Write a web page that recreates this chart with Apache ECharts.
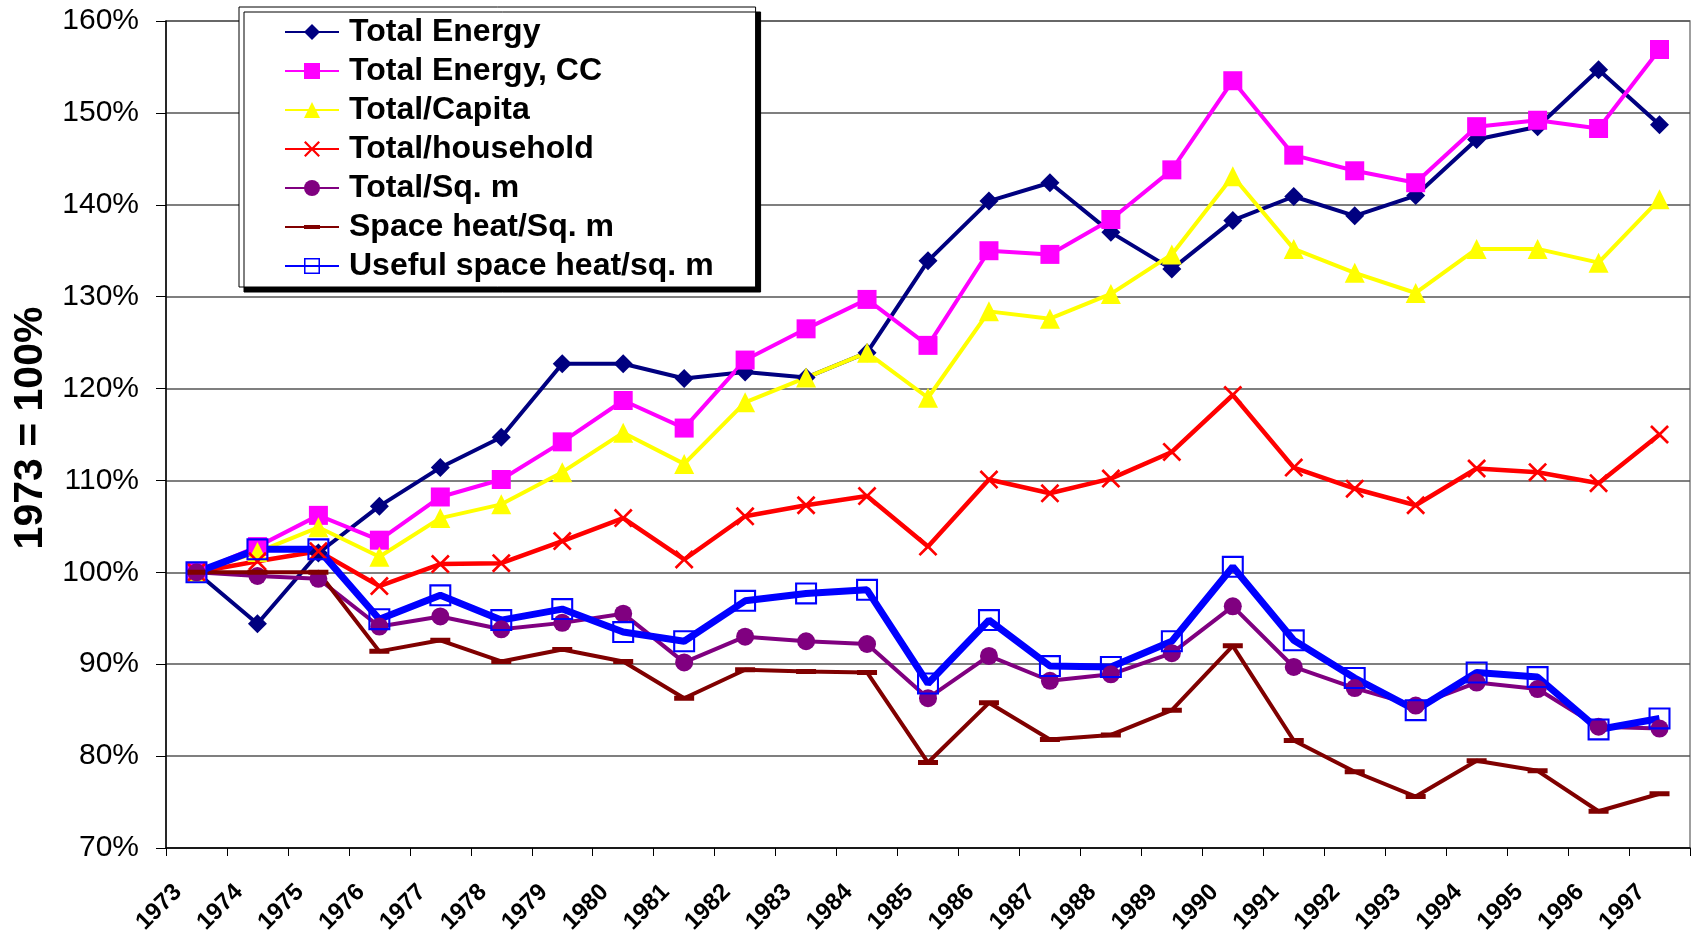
<!DOCTYPE html>
<html>
<head>
<meta charset="utf-8">
<script src="https://cdn.jsdelivr.net/npm/echarts@6/dist/echarts.min.js"></script>
<style>
  html, body { margin: 0; padding: 0; background: #fff; }
  #chart { width: 1698px; height: 934px; }
</style>
</head>
<body>
<div id="chart"></div>
<script>
// years on the x axis
const years = ['1973', '1974', '1975', '1976', '1977', '1978', '1979', '1980', '1981',
  '1982', '1983', '1984', '1985', '1986', '1987', '1988', '1989', '1990', '1991',
  '1992', '1993', '1994', '1995', '1996', '1997']

// index values, 1973 = 100%
const totalEnergy = [100, 94.4, 102.1, 107.2, 111.4, 114.7, 122.7, 122.7, 121.1, 121.8, 121.2, 123.9,
  133.9, 140.4, 142.4, 137.0, 133.0, 138.3, 140.9, 138.8, 141.0, 147.1, 148.5, 154.7, 148.7]
const totalEnergyCC = [100, 102.8, 106.2, 103.5, 108.2, 110.1, 114.2, 118.7, 115.7, 123.1, 126.5, 129.7,
  124.7, 135.0, 134.6, 138.4, 143.8, 153.5, 145.4, 143.7, 142.4, 148.5, 149.2, 148.3, 156.9]
const totalCapita = [100, 102.2, 104.9, 101.7, 105.9, 107.4, 110.9, 115.2, 111.8, 118.5, 121.2, 123.9,
  119.0, 128.4, 127.6, 130.3, 134.6, 143.1, 135.2, 132.6, 130.4, 135.2, 135.2, 133.7, 140.6]
const totalHousehold = [100, 101.2, 102.3, 98.5, 100.9, 101.0, 103.4, 105.9, 101.4, 106.1, 107.3, 108.3,
  102.8, 110.1, 108.6, 110.2, 113.1, 119.3, 111.4, 109.1, 107.3, 111.3, 110.9, 109.7, 115.0]
const totalSqm = [100, 99.6, 99.3, 94.1, 95.2, 93.8, 94.5, 95.5, 90.2, 93.0, 92.5, 92.2,
  86.3, 90.9, 88.2, 88.9, 91.2, 96.3, 89.7, 87.4, 85.5, 88.0, 87.3, 83.2, 83.0]
const spaceHeatSqm = [100, 100.0, 100.0, 91.4, 92.6, 90.3, 91.6, 90.3, 86.3, 89.4, 89.2, 89.1,
  79.3, 85.8, 81.8, 82.3, 85.0, 92.0, 81.7, 78.3, 75.6, 79.5, 78.4, 74.0, 75.9]
const usefulHeatSqm = [100, 102.5, 102.5, 94.9, 97.5, 94.8, 96.0, 93.5, 92.5, 96.9, 97.7, 98.1,
  87.9, 94.8, 89.8, 89.7, 92.5, 100.6, 92.6, 88.5, 85.0, 89.1, 88.6, 82.9, 84.1]

const FONT = "'Liberation Sans', Arial, sans-serif"
const xMark = 'path://M0,1L1,0L5,4L9,0L10,1L6,5L10,9L9,10L5,6L1,10L0,9L4,5Z'
const openSquare = 'path://M0,0H21V21H0Z M2,2V19H19V2Z'
// flat bar inside a square box (tiny corner specks keep the box square)
const dash = 'path://M0,0h0.01v0.01h-0.01Z M0,7.5H20V12.5H0Z M20,20h-0.01v-0.01h0.01Z'

function line(name, data, color, width, symbol, size) {
  return {
    name: name,
    type: 'line',
    data: data,
    symbol: symbol,
    symbolSize: size,
    showAllSymbol: true,
    itemStyle: { color: color },
    lineStyle: { color: color, width: width },
    emphasis: { disabled: true }
  }
}

const chart = echarts.init(document.getElementById('chart'))
chart.setOption({
  animation: false,
  backgroundColor: '#fff',
  grid: {
    left: 166,
    right: 8,
    top: 21,
    bottom: 86,
    outerBoundsMode: 'none',
    containLabel: false,
    show: true,
    borderColor: '#808080',
    borderWidth: 1.5
  },
  legend: {
    orient: 'vertical',
    left: 239,
    top: 7,
    padding: [9, 42, 5, 45],
    itemWidth: 54,
    itemHeight: 20,
    itemGap: 7,
    backgroundColor: '#fff',
    borderColor: '#000',
    borderWidth: 1,
    shadowColor: '#000',
    shadowBlur: 0,
    shadowOffsetX: 5,
    shadowOffsetY: 5,
    textStyle: {
      fontFamily: FONT,
      fontWeight: 'bold',
      fontSize: 32,
      lineHeight: 32,
      color: '#000',
      padding: [0, 0, 0, 5]
    }
  },
  xAxis: {
    type: 'category',
    data: years,
    boundaryGap: true,
    axisLine: { lineStyle: { color: '#000', width: 1.5 } },
    axisTick: { show: true, length: 8, inside: false, lineStyle: { color: '#000' } },
    axisLabel: {
      rotate: 45,
      interval: 0,
      margin: 22,
      padding: [0, 26, 0, 0],
      fontFamily: FONT,
      fontWeight: 'bold',
      fontSize: 24,
      color: '#000'
    },
    splitLine: { show: false }
  },
  yAxis: {
    type: 'value',
    min: 70,
    max: 160,
    interval: 10,
    name: '1973 = 100%',
    nameLocation: 'middle',
    nameRotate: 90,
    nameGap: 110,
    nameTextStyle: {
      fontFamily: FONT,
      fontWeight: 'bold',
      fontSize: 41,
      color: '#000',
      padding: [0, 0, 0, 13]
    },
    axisLine: { show: true, lineStyle: { color: '#000', width: 1.5 } },
    axisTick: { show: true, length: 10, inside: false, lineStyle: { color: '#000' } },
    axisLabel: {
      formatter: '{value}%',
      margin: 27,
      fontFamily: FONT,
      fontSize: 30,
      color: '#000'
    },
    splitLine: { show: true, lineStyle: { color: '#555', width: 1.5 } }
  },
  series: [
    line('Total Energy', totalEnergy, '#000080', 4, 'diamond', 19),
    line('Total Energy, CC', totalEnergyCC, '#FF00FF', 4, 'rect', 19),
    line('Total/Capita', totalCapita, '#FFFF00', 4, 'triangle', 20),
    line('Total/household', totalHousehold, '#FF0000', 4.5, xMark, 19),
    line('Total/Sq. m', totalSqm, '#800080', 4, 'circle', 18),
    line('Space heat/Sq. m', spaceHeatSqm, '#800000', 4, dash, 20),
    line('Useful space heat/sq. m', usefulHeatSqm, '#0000FF', 7, openSquare, 22)
  ]
})
</script>
</body>
</html>
